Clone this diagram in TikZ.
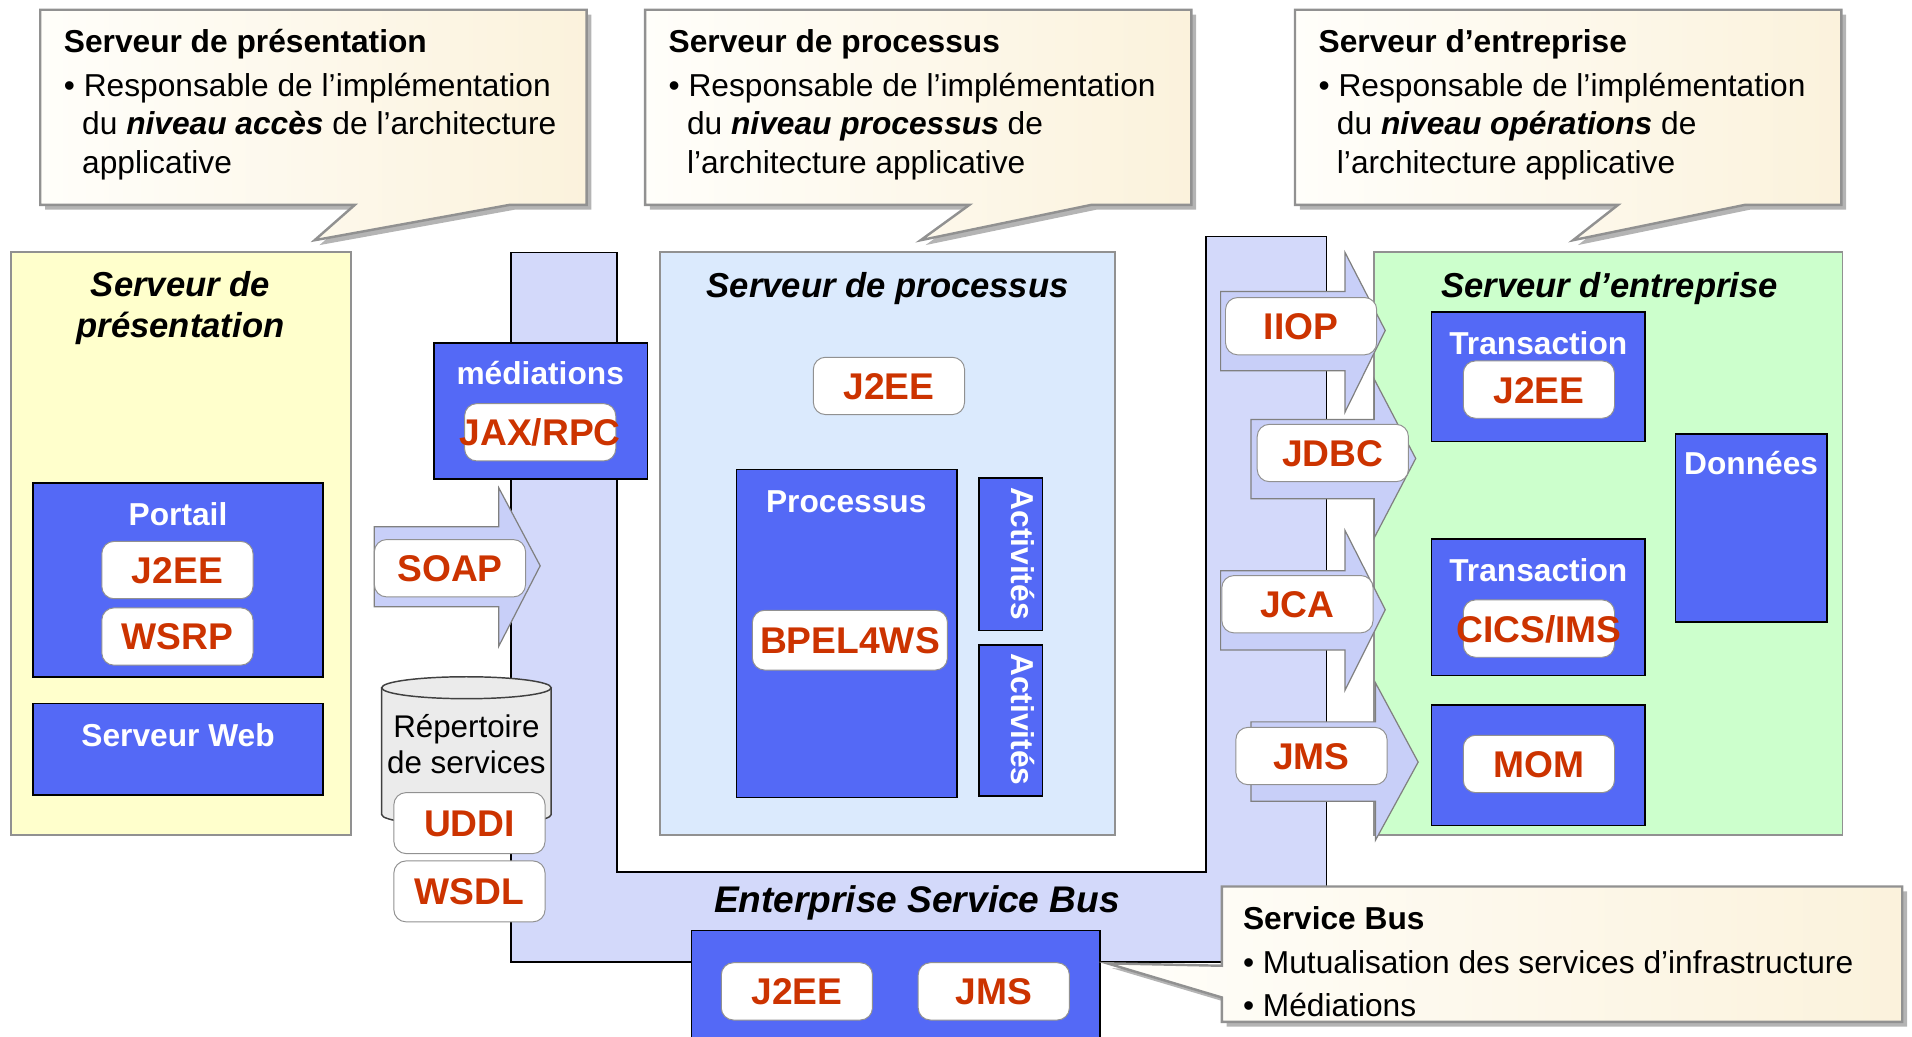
\documentclass[tikz,border=0pt]{standalone}
\usepackage{fontspec}
\setmainfont{Liberation Sans}

\definecolor{boxblue}{RGB}{84,105,246}
\definecolor{busfill}{RGB}{211,217,250}
\definecolor{arrowfill}{RGB}{200,207,248}
\definecolor{procfill}{RGB}{219,234,253}
\definecolor{presfill}{RGB}{255,255,204}
\definecolor{entfill}{RGB}{204,255,204}
\definecolor{tagred}{RGB}{204,51,0}
\definecolor{cylfill}{RGB}{235,235,235}
\definecolor{notelight}{RGB}{255,254,250}
\definecolor{notecream}{RGB}{251,242,220}
\definecolor{edgegray}{RGB}{145,145,145}
\definecolor{shadowgray}{RGB}{180,180,180}

\begin{document}
\begin{tikzpicture}[x=0.5pt, y=-0.5pt,
    note/.style={draw=edgegray, line width=1pt, left color=notelight, right color=notecream,
      preaction={fill=shadowgray, transform canvas={shift={(2pt,-2pt)}}}},
    notetxt/.style={anchor=base west, inner sep=0pt, font=\fontsize{13}{15}\selectfont},
    srv/.style={draw=edgegray, line width=0.8pt},
    blu/.style={draw=black, fill=boxblue, line width=0.7pt},
    bus/.style={draw=black, fill=busfill, line width=0.6pt},
    blockarrow/.style={draw=gray, fill=arrowfill, line width=0.5pt},
    tag/.style={draw=edgegray, fill=white, rounded corners=5pt, minimum width=62pt,
      minimum height=23.5pt, inner sep=0pt, text height=11pt, text depth=0pt,
      text=tagred, font=\fontsize{15.25}{16}\selectfont\bfseries},
    wlab/.style={anchor=base, inner sep=0pt, text=white, font=\fontsize{13}{15}\selectfont\bfseries},
    ttl/.style={anchor=base, inner sep=0pt, font=\fontsize{14.2}{17}\selectfont\bfseries\itshape},
    cyltxt/.style={anchor=base, inner sep=0pt, font=\fontsize{12.85}{15}\selectfont}]
\useasboundingbox (0,0) rectangle (1568,850);

% bulles du haut
\path[note] (33,8) -- (481,8) -- (481,168) -- (418,168) -- (258,197) -- (291,168) -- (33,168) -- cycle;
\node[notetxt] (np0) at (52,43) {\bfseries Serveur de présentation};
\node[notetxt] (np1) at (52,79) {\textbullet\ Responsable de l’implémentation};
\node[notetxt] (np2) at (67,110) {du \textbf{\textit{niveau accès}} de l’architecture};
\node[notetxt] (np3) at (67,142) {applicative};

\path[note] (529,8) -- (977,8) -- (977,168) -- (895,168) -- (755,197) -- (795,168) -- (529,168) -- cycle;
\node[notetxt] (nq0) at (548,43) {\bfseries Serveur de processus};
\node[notetxt] (nq1) at (548,79) {\textbullet\ Responsable de l’implémentation};
\node[notetxt] (nq2) at (563,110) {du \textbf{\textit{niveau processus}} de};
\node[notetxt] (nq3) at (563,142) {l’architecture applicative};

\path[note] (1062,8) -- (1510,8) -- (1510,168) -- (1431,168) -- (1290,197) -- (1327,168) -- (1062,168) -- cycle;
\node[notetxt] (ne0) at (1081,43) {\bfseries Serveur d’entreprise};
\node[notetxt] (ne1) at (1081,79) {\textbullet\ Responsable de l’implémentation};
\node[notetxt] (ne2) at (1096,110) {du \textbf{\textit{niveau opérations}} de};
\node[notetxt] (ne3) at (1096,142) {l’architecture applicative};

% bus de services
\draw[bus] (419,207) -- (506,207) -- (506,715) -- (989,715) -- (989,194) -- (1088,194)
  -- (1088,789) -- (419,789) -- cycle;
\node[ttl, font=\fontsize{15.2}{18}\selectfont\bfseries\itshape] (esb) at (752,748) {Enterprise Service Bus};

% serveur de presentation
\draw[srv, fill=presfill] (9,207) rectangle (288,685);
\node[ttl] (pres1) at (148,243) {Serveur de};
\node[ttl] (pres2) at (148,277) {présentation};
\draw[blu] (27,396) rectangle (265,555);
\node[wlab] (portail) at (146,431) {Portail};
\node[tag] (pj2ee) at (145.5,467.5) {J2EE};
\node[tag] (pwsrp) at (145.5,522) {WSRP};
\draw[blu] (27,577) rectangle (265,652);
\node[wlab] (web) at (146,612) {Serveur Web};

% mediations, SOAP, annuaire
\draw[blu] (356,281) rectangle (531,393);
\node[wlab] (med) at (443,315) {médiations};
\node[tag] (jax) at (443,354.5) {\makebox[0pt]{JAX/RPC}};
\draw[blockarrow] (307,432) -- (409,432) -- (409,400) -- (443,464) -- (409,530) -- (409,497.5)
  -- (307,497.5) -- cycle;
\node[tag] (soap) at (369,466) {SOAP};
\draw[draw=black!75, fill=cylfill, line width=0.6pt] (313,564) -- (313,668) arc (180:0:69.5 and 9)
  -- (452,564);
\draw[draw=black!75, fill=cylfill, line width=0.6pt] (382.5,564) ellipse (69.5 and 9);
\node[cyltxt] (rep1) at (382.5,605) {Répertoire};
\node[cyltxt] (rep2) at (382.5,634) {de services};
\node[tag, minimum height=25pt] (uddi) at (385,675) {UDDI};
\node[tag, minimum height=25pt] (wsdl) at (385,731) {WSDL};

% serveur de processus
\draw[srv, fill=procfill] (541,207) rectangle (914,685);
\node[ttl] (proc) at (728,244) {Serveur de processus};
\node[tag] (qj2ee) at (729,316.5) {J2EE};
\draw[blu] (604,385) rectangle (785,654);
\node[wlab] (processus) at (694,420) {Processus};
\node[tag, minimum width=80pt, minimum height=24.5pt] (bpel) at (697,525) {BPEL4WS};
\draw[blu] (803,392) rectangle (855,517);
\node[wlab, anchor=center, rotate=-90] (act1) at (839,454) {Activités};
\draw[blu] (803,529) rectangle (855,653);
\node[wlab, anchor=center, rotate=-90] (act2) at (839,590) {Activités};

% serveur d'entreprise
\draw[srv, fill=entfill] (1127,207) rectangle (1511,685);
\node[ttl] (ent) at (1320,244) {Serveur d’entreprise};
\draw[blu] (1174,256) rectangle (1349,362);
\node[wlab] (tr1) at (1261.5,291) {Transaction};
\node[tag] (ej2ee) at (1262,319.5) {J2EE};
\draw[blu] (1374,356) rectangle (1498,510);
\node[wlab] (donnees) at (1436,389) {Données};
\draw[blu] (1174,442) rectangle (1349,554);
\node[wlab] (tr2) at (1261.5,477) {Transaction};
\node[tag] (cics) at (1262,515.5) {\makebox[0pt]{CICS/IMS}};
\draw[blu] (1174,578) rectangle (1349,677);
\node[tag] (mom) at (1262,626.5) {MOM};

% fleches vers le serveur d'entreprise
\draw[blockarrow] (1001,239) -- (1103,239) -- (1103,207) -- (1136,271) -- (1103,338) -- (1103,304)
  -- (1001,304) -- cycle;
\node[tag] (iiop) at (1067,267.5) {IIOP};
\draw[blockarrow] (1026,344) -- (1127,344) -- (1127,311) -- (1161,376) -- (1127,441) -- (1127,409)
  -- (1026,409) -- cycle;
\node[tag] (jdbc) at (1093,371.5) {JDBC};
\draw[blockarrow] (1001,468) -- (1103,468) -- (1103,435) -- (1136,500) -- (1103,566) -- (1103,533)
  -- (1001,533) -- cycle;
\node[tag] (jca) at (1064,495.5) {JCA};
\draw[blockarrow] (1026,592) -- (1128,592) -- (1128,560) -- (1163,625) -- (1128,689) -- (1128,657)
  -- (1026,657) -- cycle;
\node[tag] (jms) at (1075.5,620) {JMS};

% socle du bus
\draw[blu] (567,763) rectangle (902,856);
\node[tag] (bj2ee) at (653.5,813) {J2EE};
\node[tag] (bjms) at (815,813) {JMS};

% bulle du bus
\path[note] (1002,727) -- (1560,727) -- (1560,838) -- (1002,838) -- (1002,818) -- (908,790)
  -- (1002,792) -- cycle;
\node[notetxt] (nb0) at (1019,762) {\bfseries Service Bus};
\node[notetxt] (nb1) at (1019,798) {\textbullet\ Mutualisation des services d’infrastructure};
\node[notetxt] (nb2) at (1019,834) {\textbullet\ Médiations};
\end{tikzpicture}
\end{document}
